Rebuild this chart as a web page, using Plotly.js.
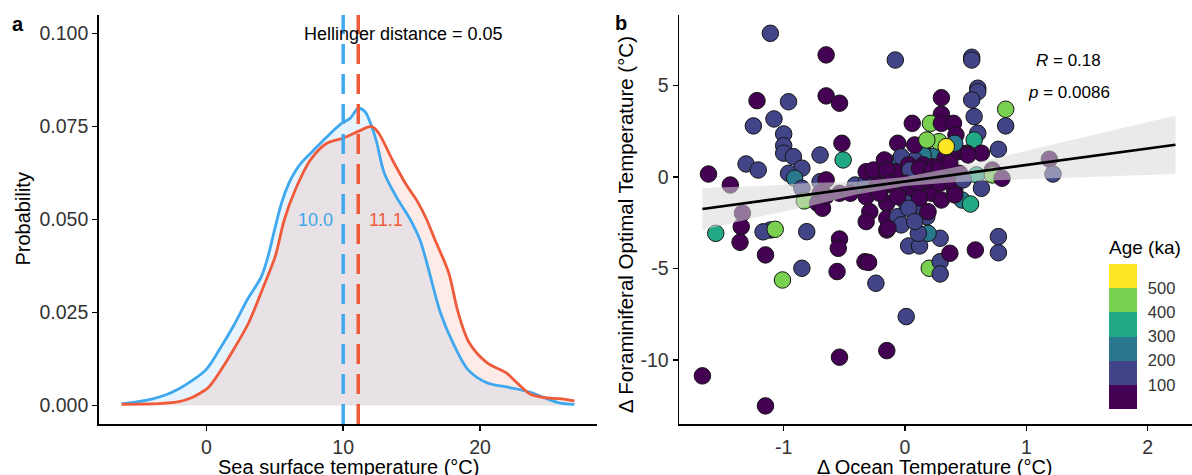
<!DOCTYPE html>
<html>
<head>
<meta charset="utf-8">
<script src="https://cdn.plot.ly/plotly-3.0.1.min.js"></script>
<style>html,body{margin:0;padding:0;background:#fff;}#chart{width:1192px;height:475px;}</style>
</head>
<body>
<div id="chart"></div>
<script>
// ---------- Panel a: SST density curves ----------
const sstBlue = [-6.2, -5, -4, -3, -2, -1, 0, 1, 2, 3, 4, 4.5, 5, 5.5, 6, 6.5, 7, 7.8, 8.8, 9.9, 10.5, 11.1, 11.6, 11.9, 12.4, 13.0, 13.9, 14.9, 15.6, 16.1, 17.1, 18.0, 19.1, 20.5, 22.2, 23.8, 24.7, 25.8, 26.9];
const densBlue = [0.0004, 0.0010, 0.0017, 0.0028, 0.0045, 0.0068, 0.0097, 0.0153, 0.0215, 0.0285, 0.0345, 0.0400, 0.0475, 0.0545, 0.0595, 0.0630, 0.0655, 0.0685, 0.0722, 0.0759, 0.0772, 0.0799, 0.0790, 0.0768, 0.0714, 0.0625, 0.0560, 0.0500, 0.0446, 0.0385, 0.0250, 0.0170, 0.0097, 0.0061, 0.0048, 0.0034, 0.0021, 0.0007, 0.0003];
const sstRed = [-6.2, -4, -3, -2, -1, -0.6, 0.14, 1.1, 2.0, 3.1, 4.2, 5.05, 5.7, 6.5, 7.6, 8.8, 10, 11.1, 12.1, 12.6, 13.6, 14.6, 15.4, 16.1, 16.7, 17.7, 18.4, 19.2, 20.5, 21.9, 22.7, 23.7, 24.7, 25.8, 26.9];
const densRed = [0.0003, 0.0004, 0.0006, 0.0010, 0.0022, 0.0030, 0.0048, 0.0097, 0.0151, 0.0223, 0.0322, 0.0403, 0.0500, 0.0580, 0.0660, 0.0705, 0.0719, 0.0737, 0.0750, 0.0732, 0.0660, 0.0594, 0.0550, 0.0500, 0.0446, 0.0358, 0.0250, 0.0169, 0.0115, 0.0088, 0.0061, 0.0030, 0.0021, 0.0018, 0.0012];
const meanBlue = 10.0;
const meanRed = 11.1;
const hellingerLabel = "Hellinger distance = 0.05";
const aXTicks = [0, 10, 20];
const aYTicks = [0, 0.025, 0.05, 0.075, 0.1];

// ---------- Panel b: scatter ----------
const dOcean = [-1.11,-0.65,-0.08,0.55,0.55,-1.22,-0.96,-0.65,-0.54,-1.25,-1.08,-1.00,-1.00,-1.00,-0.92,-0.85,-0.70,-0.52,-0.51,-1.31,-1.21,-1.62,-1.44,-0.96,-0.91,-0.85,-0.83,-0.70,-0.65,-0.70,-0.72,-0.68,-0.65,-0.54,-0.41,-0.32,-0.32,-0.21,-0.12,-0.17,-0.10,-0.15,-0.15,-0.29,-0.15,-0.06,-0.06,-1.34,-1.35,-1.56,-1.11,-1.17,-1.07,-0.81,-0.54,-1.36,-0.55,-1.15,-0.85,-0.56,-1.01,-0.33,-0.30,-0.24,-0.15,0.01,-0.54,-0.15,-1.67,-1.15,0.03,0.12,0.20,0.29,0.29,0.37,0.58,0.77,0.77,0.29,0.19,0.11,0.60,0.60,0.55,0.30,0.57,0.83,0.83,0.06,0.30,0.21,0.30,0.40,0.42,0.60,0.57,0.15,0.63,0.77,0.51,0.44,0.37,0.23,0.15,0.08,-0.03,-0.08,0.03,0.15,0.23,0.34,0.59,0.72,0.72,0.80,1.19,1.22,0.63,0.47,0.54,0.22,0.30,0.06,0.01,0.12,0.18,-0.03,0.41,0.08,0.41,0.33,0.52,-0.26,-0.15,0.04,0.12,0.22,0.29,0.37,0.45,-0.23,-0.12,0.00,0.11,0.19,0.29,0.39,0.48,-0.45,-0.32,-0.21,-0.06,0.12,0.41,0.03,0.19,-0.32,-0.14,0.08,0.28,0.18,0.34];
const dForam = [7.85,6.67,6.39,6.54,6.39,4.17,4.11,4.43,4.03,2.79,3.17,2.35,1.71,1.30,1.11,0.48,1.20,1.84,0.93,0.71,0.38,0.16,-0.44,0.20,-0.07,-0.62,-1.31,-0.26,-0.16,-0.89,-1.44,-1.71,-1.04,-0.89,-0.44,-0.31,0.29,0.38,0.75,0.93,0.20,-0.44,-1.44,-1.90,-2.26,-2.17,1.84,-1.98,-2.72,-3.08,-2.90,-3.00,-2.86,-2.99,-3.39,-3.57,-3.90,-4.26,-4.99,-5.17,-5.63,-4.63,-4.67,-5.81,-2.90,-7.63,-9.85,-9.49,-10.87,-12.51,-3.77,-3.77,-4.99,-4.63,-5.30,-4.17,-3.99,-4.14,-3.26,-3.35,-3.08,-3.08,4.85,4.66,4.21,4.33,3.30,3.70,2.79,2.93,3.43,2.93,2.93,2.93,2.30,2.39,2.02,1.75,1.30,1.51,1.30,1.38,1.11,1.11,1.20,0.93,1.11,0.29,0.66,0.66,0.56,0.56,0.11,0.38,0.11,-0.07,0.97,0.16,-0.62,-1.26,-1.48,-0.89,-1.26,-0.98,-1.44,-1.71,-2.17,-2.62,-0.71,1.75,1.84,1.02,1.20,0.38,0.38,0.38,0.48,0.38,0.48,0.75,0.20,-0.44,-0.34,-0.34,-0.34,-0.16,-0.34,-0.26,-0.16,-0.89,-1.08,-0.89,-1.08,-1.15,-0.98,-1.71,-1.90,-2.44,-2.80,-2.44,1.93,2.02,1.66];
const ageKa = [150,50,150,150,150,50,150,50,50,150,150,150,150,150,150,150,150,50,350,150,150,50,50,150,250,150,450,150,50,50,50,50,50,50,150,150,50,50,250,50,50,50,50,50,50,150,50,50,50,350,150,150,450,150,50,50,50,50,150,50,450,50,50,150,50,150,50,50,50,50,150,150,450,150,150,50,50,150,150,150,250,150,150,150,150,50,150,450,150,50,50,450,50,50,50,150,350,50,50,150,50,50,50,250,250,150,150,50,50,50,50,50,350,50,450,50,50,150,150,250,350,50,50,50,150,150,150,150,50,50,250,50,50,50,50,150,50,50,50,50,50,50,50,50,50,50,50,50,150,50,50,50,50,50,50,150,50,50,50,150,450,450,550];
// regression line and confidence band
const fitX  = [-1.67, -1.2, -0.8, -0.4, 0, 0.4, 0.8, 1.2, 1.6, 2.0, 2.23];
const fitY  = [-1.75, -1.33, -0.97, -0.61, -0.25, 0.11, 0.47, 0.83, 1.19, 1.55, 1.76];
const ciHi  = [-0.60, -0.50, -0.33, -0.26, 0.00, 0.51, 1.11, 1.73, 2.36, 2.99, 3.36];
const ciLo  = [-2.90, -2.17, -1.61, -0.96, -0.50, -0.29, -0.17, -0.07, 0.02, 0.11, 0.16];
const statR = "0.18";
const statP = "0.0086";
const bXTicks = [-1, 0, 1, 2];
const bXTickText = ["-1", "0", "1", "2"];
const bYTicks = [-10, -5, 0, 5];
const bYTickText = ["-10", "-5", "0", "5"];
const ageBreaks = [100, 200, 300, 400, 500];
const ageColors = ["#440154", "#414487", "#2A788E", "#22A884", "#7AD151", "#FDE725"];

// ---------- styling ----------
const FONT = "Liberation Sans, Arial, Helvetica, sans-serif";
const BLUE = "#3FA8EE";
const RED = "#EF5A3B";
const W = 1192, H = 475;
const px = v => v / W;
const py = v => (H - v) / H;

const cmin = 0, cmax = 600;
const colorscale = [];
ageColors.forEach((c, i) => {
  colorscale.push([i / ageColors.length, c]);
  colorscale.push([(i + 1) / ageColors.length, c]);
});

const traces = [
  {x: sstBlue, y: densBlue, type: 'scatter', mode: 'lines', fill: 'tozeroy',
   fillcolor: 'rgba(63,168,238,0.12)', line: {width: 0, shape: 'spline', smoothing: 0.9},
   xaxis: 'x', yaxis: 'y', hoverinfo: 'skip'},
  {x: sstRed, y: densRed, type: 'scatter', mode: 'lines', fill: 'tozeroy',
   fillcolor: 'rgba(239,90,59,0.12)', line: {width: 0, shape: 'spline', smoothing: 0.9},
   xaxis: 'x', yaxis: 'y', hoverinfo: 'skip'},
  {x: sstBlue, y: densBlue, type: 'scatter', mode: 'lines',
   line: {color: BLUE, width: 2.8, shape: 'spline', smoothing: 0.9}, xaxis: 'x', yaxis: 'y', hoverinfo: 'skip'},
  {x: sstRed, y: densRed, type: 'scatter', mode: 'lines',
   line: {color: RED, width: 2.8, shape: 'spline', smoothing: 0.9}, xaxis: 'x', yaxis: 'y', hoverinfo: 'skip'},
  // scatter
  {x: dOcean, y: dForam, type: 'scatter', mode: 'markers', xaxis: 'x2', yaxis: 'y2', hoverinfo: 'skip',
   marker: {size: 16.5, color: ageKa, colorscale: colorscale, cmin: cmin, cmax: cmax,
            line: {color: '#151515', width: 1},
            showscale: true,
            colorbar: {x: px(1109), xanchor: 'left', y: py(409), yanchor: 'bottom',
                       len: 145, lenmode: 'pixels', thickness: 28, thicknessmode: 'pixels',
                       xpad: 0, ypad: 0, outlinewidth: 0, tickvals: ageBreaks,
                       ticktext: ageBreaks.map(String), ticks: 'outside', ticklen: 8,
                       tickcolor: 'rgba(0,0,0,0)',
                       tickfont: {family: FONT, size: 16.5, color: '#333'}}}},
  // confidence band
  {x: fitX, y: ciLo, type: 'scatter', mode: 'lines', line: {width: 0}, xaxis: 'x2', yaxis: 'y2', hoverinfo: 'skip'},
  {x: fitX, y: ciHi, type: 'scatter', mode: 'lines', line: {width: 0}, fill: 'tonexty',
   fillcolor: 'rgba(217,217,217,0.55)', xaxis: 'x2', yaxis: 'y2', hoverinfo: 'skip'},
  {x: fitX, y: fitY, type: 'scatter', mode: 'lines', line: {color: '#000', width: 2.6},
   xaxis: 'x2', yaxis: 'y2', hoverinfo: 'skip'}
];

const axisCommon = {
  showline: true, linecolor: '#000', linewidth: 1.5, ticks: 'outside', ticklen: 5,
  tickwidth: 1.5, tickcolor: '#000', showgrid: false, zeroline: false,
  tickfont: {family: FONT, size: 19.5, color: '#333'}, fixedrange: true
};

const layout = {
  width: W, height: H,
  margin: {l: 0, r: 0, t: 0, b: 0, autoexpand: false},
  paper_bgcolor: '#fff', plot_bgcolor: 'rgba(0,0,0,0)',
  showlegend: false,
  font: {family: FONT, color: '#000'},
  xaxis: Object.assign({}, axisCommon, {domain: [px(98.7), px(597)], range: [-7.87, 28.55],
          tickvals: aXTicks, anchor: 'y'}),
  yaxis: Object.assign({}, axisCommon, {domain: [py(424), py(15)], range: [-0.005, 0.105],
          tickvals: aYTicks, tickformat: '.3f', anchor: 'x'}),
  xaxis2: Object.assign({}, axisCommon, {domain: [px(679), 1], range: [-1.863, 2.366],
          tickvals: bXTicks, ticktext: bXTickText, anchor: 'y2'}),
  yaxis2: Object.assign({}, axisCommon, {domain: [py(424), py(15)], range: [-13.5, 8.85],
          tickvals: bYTicks, ticktext: bYTickText, anchor: 'x2'}),
  shapes: [
    {type: 'line', xref: 'x', yref: 'y domain', x0: meanBlue, x1: meanBlue, y0: 0, y1: 1, layer: 'above',
     line: {color: BLUE, width: 3.5, dash: '20px,10px'}},
    {type: 'line', xref: 'x', yref: 'y domain', x0: meanRed, x1: meanRed, y0: 0, y1: 1, layer: 'above',
     line: {color: RED, width: 3.5, dash: '20px,10px'}}
  ],
  annotations: [
    {xref: 'paper', yref: 'paper', x: px(18), y: py(24), text: '<b>a</b>', showarrow: false,
     font: {family: FONT, size: 20, color: '#000'}, xanchor: 'center', yanchor: 'middle'},
    {xref: 'paper', yref: 'paper', x: px(621), y: py(23), text: '<b>b</b>', showarrow: false,
     font: {family: FONT, size: 20, color: '#000'}, xanchor: 'center', yanchor: 'middle'},
    {xref: 'x', yref: 'y', x: 14.4, y: 0.1, text: hellingerLabel, showarrow: false,
     font: {family: FONT, size: 18, color: '#000'}, xanchor: 'center', yanchor: 'middle'},
    {xref: 'x', yref: 'y', x: meanBlue - 2, y: 0.05, text: meanBlue.toFixed(1), showarrow: false,
     font: {family: FONT, size: 18, color: BLUE}, xanchor: 'center', yanchor: 'middle'},
    {xref: 'x', yref: 'y', x: meanRed + 2, y: 0.05, text: meanRed.toFixed(1), showarrow: false,
     font: {family: FONT, size: 18, color: RED}, xanchor: 'center', yanchor: 'middle'},
    // axis titles
    {xref: 'paper', yref: 'paper', x: px(348), y: py(466.5), text: 'Sea surface temperature (°C)', showarrow: false,
     font: {family: FONT, size: 20, color: '#000'}, xanchor: 'center', yanchor: 'middle'},
    {xref: 'paper', yref: 'paper', x: px(23), y: py(219.5), text: 'Probability', showarrow: false, textangle: -90,
     font: {family: FONT, size: 20, color: '#000'}, xanchor: 'center', yanchor: 'middle'},
    {xref: 'paper', yref: 'paper', x: px(935), y: py(467), text: 'Δ Ocean Temperature (°C)', showarrow: false,
     font: {family: FONT, size: 20, color: '#000'}, xanchor: 'center', yanchor: 'middle'},
    {xref: 'paper', yref: 'paper', x: px(625), y: py(225), text: 'Δ Foraminiferal Optimal Temperature (°C)',
     showarrow: false, textangle: -90,
     font: {family: FONT, size: 20.5, color: '#000'}, xanchor: 'center', yanchor: 'middle'},
    // stats
    {xref: 'x2', yref: 'y2', x: 1.35, y: 6.39, text: '<i>R</i> = ' + statR, showarrow: false,
     font: {family: FONT, size: 17, color: '#000'}, xanchor: 'center', yanchor: 'middle'},
    {xref: 'x2', yref: 'y2', x: 1.35, y: 4.64, text: '<i>p</i> = ' + statP, showarrow: false,
     font: {family: FONT, size: 17, color: '#000'}, xanchor: 'center', yanchor: 'middle'},
    // legend title
    {xref: 'paper', yref: 'paper', x: px(1107), y: py(247), text: 'Age (ka)', showarrow: false,
     font: {family: FONT, size: 19, color: '#000'}, xanchor: 'left', yanchor: 'middle'}
  ]
};

Plotly.newPlot('chart', traces, layout, {staticPlot: true, displayModeBar: false});
</script>
</body>
</html>
